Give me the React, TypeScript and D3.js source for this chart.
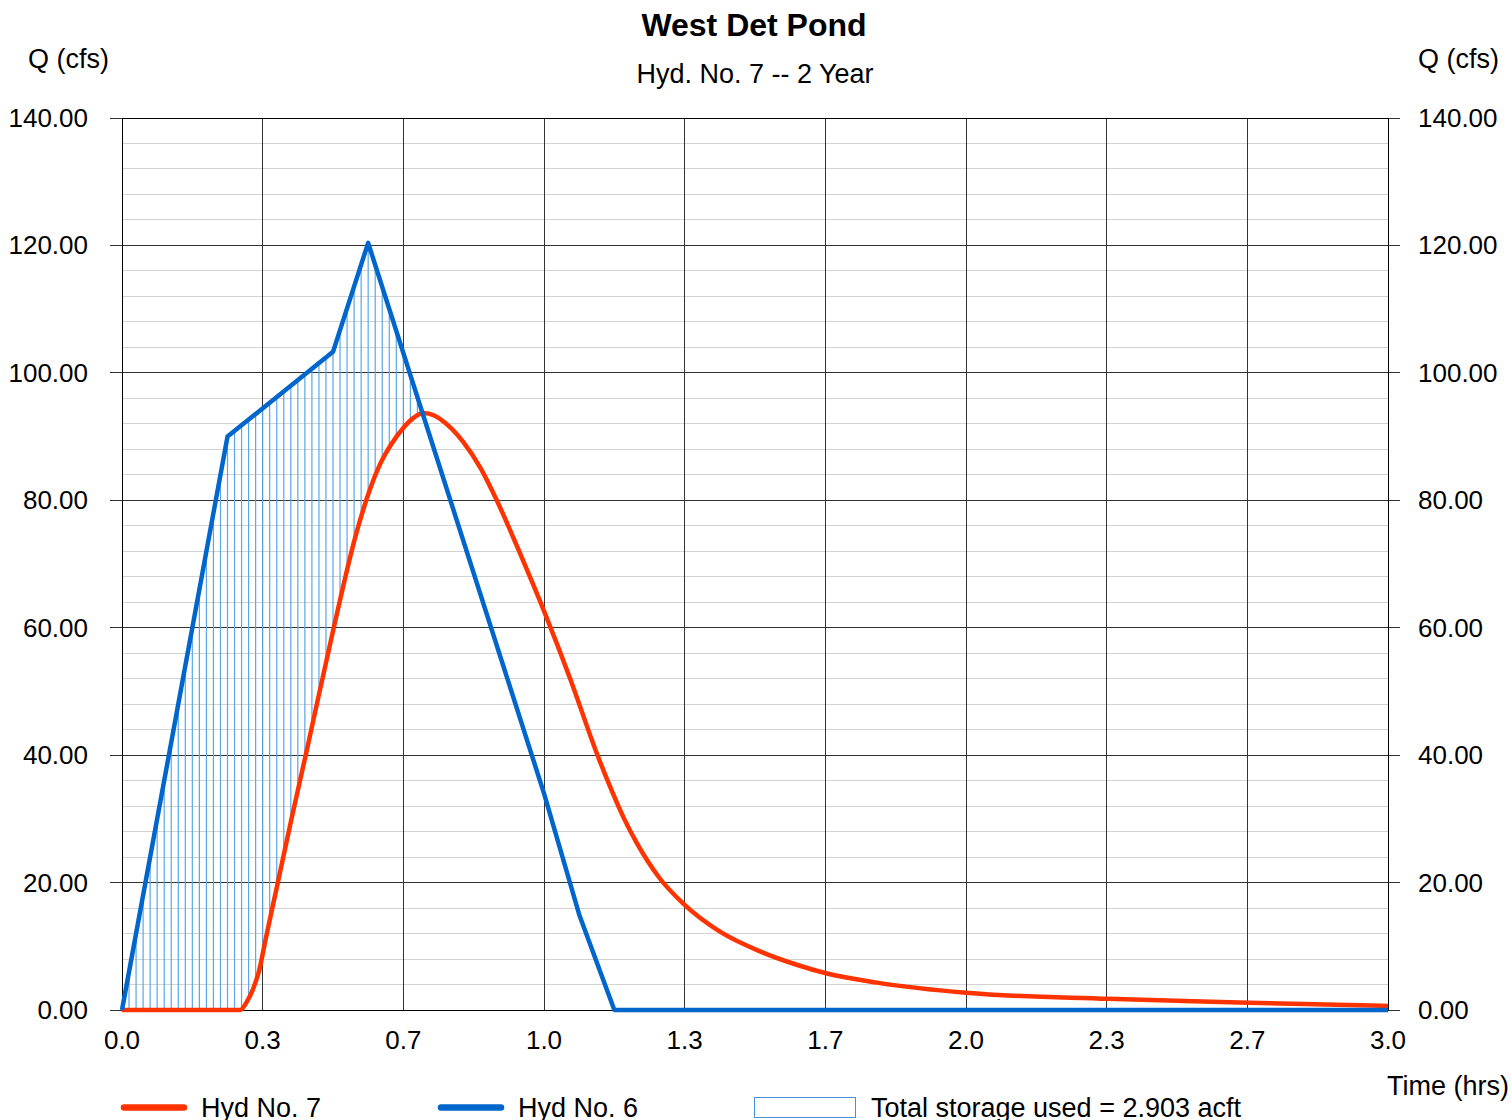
import React from "react";
import * as d3 from "d3";

// Inflow hydrograph (Hyd No. 6): time in hours, flow in cfs
const inflowTime = [0, 0.25, 0.5, 0.5833, 1.0, 1.0833, 1.1667, 3.0];
const inflowQ = [0, 90, 103.3, 120.4, 34, 15, 0, 0];

// Outflow hydrograph (Hyd No. 7)
const outflowTime = [
  0, 0.28, 0.295, 0.31, 0.325, 0.34, 0.366, 0.4, 0.437, 0.5, 0.556, 0.588, 0.611, 0.64, 0.667, 0.69,
  0.714, 0.74, 0.761, 0.808, 0.85, 0.888, 0.95, 1.002, 1.062, 1.125, 1.16, 1.19, 1.219, 1.275, 1.33,
  1.417, 1.512, 1.599, 1.666, 1.789, 2.0, 2.336, 2.67, 3.0,
];
const outflowQ = [
  0, 0, 1.2, 3.2, 6.2, 11.0, 19, 29.5, 40.5, 59.5, 75, 81.8, 85.6, 89.0, 91.4, 92.9, 93.7, 93.3,
  92.4, 89.2, 85, 80, 70.6, 62.3, 52.0, 40.3, 34.5, 30, 26.3, 20.6, 16.7, 12.3, 9.2, 7.1, 5.8, 4.3,
  2.7, 1.75, 1.15, 0.63,
];

const yTicks = [0, 20, 40, 60, 80, 100, 120, 140];
const yTickLabels = ["0.00", "20.00", "40.00", "60.00", "80.00", "100.00", "120.00", "140.00"];
const xTicks = [0, 1 / 3, 2 / 3, 1, 4 / 3, 5 / 3, 2, 7 / 3, 8 / 3, 3];
const xTickLabels = ["0.0", "0.3", "0.7", "1.0", "1.3", "1.7", "2.0", "2.3", "2.7", "3.0"];
const minorStep = 4;
const hatchStep = 1 / 60; // one-minute computation interval

const titleText = "West Det Pond";
const subtitleText = "Hyd. No. 7 -- 2 Year";
const yAxisTitle = "Q (cfs)";
const xAxisTitle = "Time (hrs)";
const legendOut = "Hyd No. 7";
const legendIn = "Hyd No. 6";
const storageText = "Total storage used = 2.903 acft";

const W = 1512;
const H = 1120;
const left = 122;
const right = 1388;
const top = 118;
const bottom = 1010;

const RED = "#ff3300";
const BLUE = "#0066cc";
const FONT = "'Liberation Sans', Arial, sans-serif";

export default function App() {
  const x = d3.scaleLinear().domain([0, 3]).range([left, right]);
  const y = d3.scaleLinear().domain([0, 140]).range([bottom, top]);

  const inLine = d3
    .line<number>()
    .x((_, i) => x(inflowTime[i]))
    .y((d) => y(d));
  const outLine = d3
    .line<number>()
    .x((_, i) => x(outflowTime[i]))
    .y((d) => y(d))
    .curve(d3.curveMonotoneX);

  const inAt = d3.scaleLinear().domain(inflowTime).range(inflowQ).clamp(true);
  const outAt = d3.scaleLinear().domain(outflowTime).range(outflowQ).clamp(true);

  // storage hatching: one vertical stroke per minute where inflow exceeds outflow
  const hatch: { t: number; q0: number; q1: number }[] = [];
  for (let k = 1; k * hatchStep < 3; k++) {
    const t = k * hatchStep;
    const qi = inAt(t);
    const qo = outAt(t);
    if (qi > qo + 0.5) hatch.push({ t, q0: Math.max(qo, 0), q1: qi });
  }

  const minor = d3.range(minorStep, 140, minorStep).filter((v) => v % 20 !== 0);

  return (
    <svg
      width={W}
      height={H}
      style={{ position: "absolute", left: 0, top: 0, background: "#fff" }}
      fontFamily={FONT}
    >
      <rect x={0} y={0} width={W} height={H} fill="#fff" />

      {/* minor horizontal grid */}
      <g stroke="#d2d2d2" strokeWidth={1} shapeRendering="crispEdges">
        {minor.map((v) => (
          <line key={v} x1={left} x2={right} y1={y(v)} y2={y(v)} />
        ))}
      </g>

      {/* major grid */}
      <g stroke="#333" strokeWidth={1} shapeRendering="crispEdges">
        {yTicks.map((v) => (
          <line key={"h" + v} x1={left - 12} x2={right + 12} y1={y(v)} y2={y(v)} />
        ))}
        {xTicks.map((v, i) => (
          <line key={"v" + i} x1={x(v)} x2={x(v)} y1={top} y2={bottom} />
        ))}
      </g>

      {/* frame */}
      <rect
        x={left}
        y={top}
        width={right - left}
        height={bottom - top}
        fill="none"
        stroke="#000"
        strokeWidth={1}
        shapeRendering="crispEdges"
      />

      {/* storage hatching */}
      <g stroke="#5aa6e8" strokeWidth={1.2}>
        {hatch.map((h, i) => (
          <line key={i} x1={x(h.t)} x2={x(h.t)} y1={y(h.q0)} y2={y(h.q1)} />
        ))}
      </g>

      {/* hydrographs */}
      <path d={outLine(outflowQ) ?? ""} fill="none" stroke={RED} strokeWidth={4.5} strokeLinejoin="round" />
      <path d={inLine(inflowQ) ?? ""} fill="none" stroke={BLUE} strokeWidth={4.5} strokeLinejoin="round" />

      {/* tick labels */}
      <g fontSize={26} fill="#000">
        {yTicks.map((v, i) => (
          <text key={"l" + v} x={88} y={y(v) + 9} textAnchor="end">
            {yTickLabels[i]}
          </text>
        ))}
        {yTicks.map((v, i) => (
          <text key={"r" + v} x={1418} y={y(v) + 9} textAnchor="start">
            {yTickLabels[i]}
          </text>
        ))}
        {xTicks.map((v, i) => (
          <text key={"x" + i} x={x(v)} y={1049} textAnchor="middle">
            {xTickLabels[i]}
          </text>
        ))}
      </g>

      {/* titles */}
      <text x={754} y={36} textAnchor="middle" fontSize={32} fontWeight="bold">
        {titleText}
      </text>
      <text x={755} y={83} textAnchor="middle" fontSize={27}>
        {subtitleText}
      </text>
      <text x={28} y={68} fontSize={27}>
        {yAxisTitle}
      </text>
      <text x={1418} y={68} fontSize={27}>
        {yAxisTitle}
      </text>
      <text x={1509} y={1095} textAnchor="end" fontSize={27}>
        {xAxisTitle}
      </text>

      {/* legend */}
      <line x1={124} x2={184} y1={1107.5} y2={1107.5} stroke={RED} strokeWidth={6.5} strokeLinecap="round" />
      <text x={201} y={1117} fontSize={27}>
        {legendOut}
      </text>
      <line x1={441} x2={501} y1={1107.5} y2={1107.5} stroke={BLUE} strokeWidth={6.5} strokeLinecap="round" />
      <text x={518} y={1117} fontSize={27}>
        {legendIn}
      </text>
      <rect x={754.5} y={1097.5} width={101} height={20} fill="#fff" stroke="#4a90d9" strokeWidth={1} />
      <text x={871} y={1117} fontSize={27}>
        {storageText}
      </text>
    </svg>
  );
}
